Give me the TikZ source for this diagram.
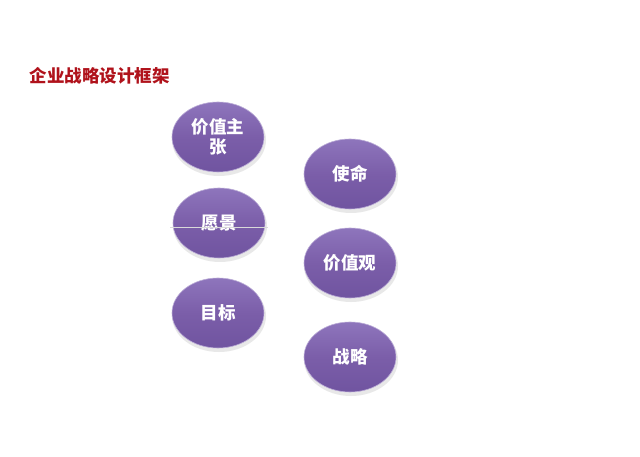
\documentclass[tikz,border=0pt]{standalone}
\usepackage{fontspec}
\usepackage{xcolor}
\newfontfamily\cjk{Noto Sans CJK SC}
\definecolor{titlered}{HTML}{B0121B}
\definecolor{purpletop}{HTML}{8E75BC}
\definecolor{purplemid}{HTML}{7B5EA9}
\definecolor{purplebot}{HTML}{7054A0}
\tikzset{
  oval/.style={ellipse, minimum width=92pt, minimum height=70pt, inner sep=0pt,
    top color=purpletop, bottom color=purplebot, middle color=purplemid,
    draw=purpletop!60!white, line width=.6pt,
    font=\cjk\bfseries\fontsize{17.5}{19.5}\selectfont, text=white, align=center},
  ovalshadow/.style={ellipse, minimum width=94pt, minimum height=72pt, inner sep=0pt,
    fill=black!9}
}
\usetikzlibrary{shapes.geometric}
\begin{document}
\begin{tikzpicture}[x=1pt,y=-1pt]
\useasboundingbox (0,0) rectangle (640,457);
\fill[white] (0,0) rectangle (640,457);
\node[anchor=west, text=titlered, font=\cjk\bfseries\fontsize{17.5}{19}\selectfont] (title) at (26,76) {企业战略设计框架};
\foreach \x/\y in {218/137, 219/223, 218/313, 350/174, 350/263, 350/357}{
\node[ovalshadow] at (\x+1,\y+3) {};
}
\node[oval] (value) at (218,137) {价值主\\张};
\node[oval] (vision) at (219,223) {愿景};
\node[oval] (goal) at (218,313) {目标};
\node[oval] (mission) at (350,174) {使命};
\node[oval] (values) at (350,263) {价值观};
\node[oval] (strategy) at (350,357) {战略};
\coordinate (v1) at (170,227);
\coordinate (v2) at (268,227);
\draw[black!15, line width=.8pt] (v1)--(v2);
\end{tikzpicture}
\end{document}
